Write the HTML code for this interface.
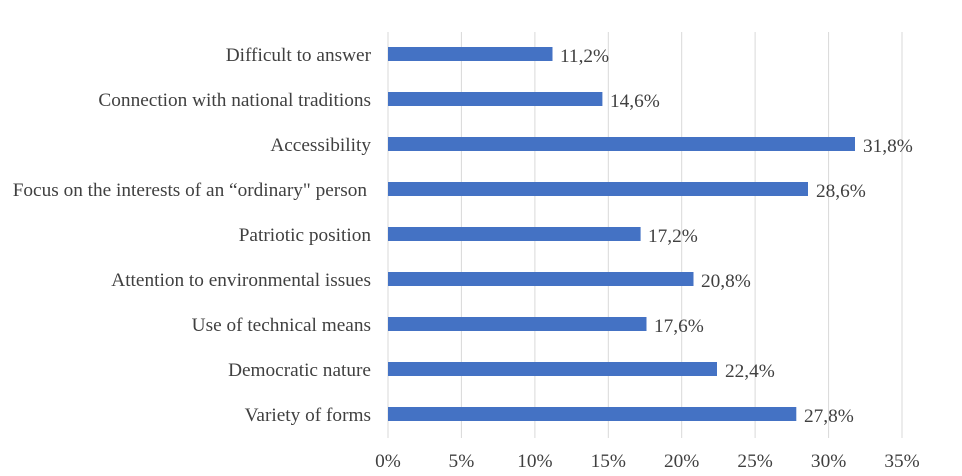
<!DOCTYPE html>
<html><head><meta charset="utf-8"><style>
body{margin:0;background:#fff}
svg text{font-family:"Liberation Serif",serif;font-size:19.3px;fill:#404040}
</style></head><body>
<svg width="962" height="471" xmlns="http://www.w3.org/2000/svg">
<g stroke="#d9d9d9" stroke-width="1">
<line x1="388" y1="32" x2="388" y2="438"/>
<line x1="461.4" y1="32" x2="461.4" y2="438"/>
<line x1="534.9" y1="32" x2="534.9" y2="438"/>
<line x1="608.3" y1="32" x2="608.3" y2="438"/>
<line x1="681.7" y1="32" x2="681.7" y2="438"/>
<line x1="755.1" y1="32" x2="755.1" y2="438"/>
<line x1="828.6" y1="32" x2="828.6" y2="438"/>
<line x1="902" y1="32" x2="902" y2="438"/>
</g>
<g fill="#4472c4">
<rect x="388" y="47" width="164.5" height="14"/>
<rect x="388" y="92" width="214.4" height="14"/>
<rect x="388" y="137" width="467" height="14"/>
<rect x="388" y="182" width="420" height="14"/>
<rect x="388" y="227" width="252.6" height="14"/>
<rect x="388" y="272" width="305.5" height="14"/>
<rect x="388" y="317" width="258.5" height="14"/>
<rect x="388" y="362" width="329" height="14"/>
<rect x="388" y="407" width="408.3" height="14"/>
</g>
<g text-anchor="end">
<text x="371" y="61">Difficult to answer</text>
<text x="371" y="106">Connection with national traditions</text>
<text x="371" y="151">Accessibility</text>
<text x="367" y="196">Focus on the interests of an “ordinary" person</text>
<text x="371" y="241">Patriotic position</text>
<text x="371" y="286">Attention to environmental issues</text>
<text x="371" y="331">Use of technical means</text>
<text x="371" y="376">Democratic nature</text>
<text x="371" y="421">Variety of forms</text>
</g>
<g>
<text x="560" y="62">11,2%</text>
<text x="610" y="107">14,6%</text>
<text x="863" y="152">31,8%</text>
<text x="816" y="197">28,6%</text>
<text x="648" y="242">17,2%</text>
<text x="701" y="287">20,8%</text>
<text x="654" y="332">17,6%</text>
<text x="725" y="377">22,4%</text>
<text x="804" y="422">27,8%</text>
</g>
<g text-anchor="middle">
<text x="388" y="467">0%</text>
<text x="461.4" y="467">5%</text>
<text x="534.9" y="467">10%</text>
<text x="608.3" y="467">15%</text>
<text x="681.7" y="467">20%</text>
<text x="755.1" y="467">25%</text>
<text x="828.6" y="467">30%</text>
<text x="902" y="467">35%</text>
</g>
</svg>
</body></html>
